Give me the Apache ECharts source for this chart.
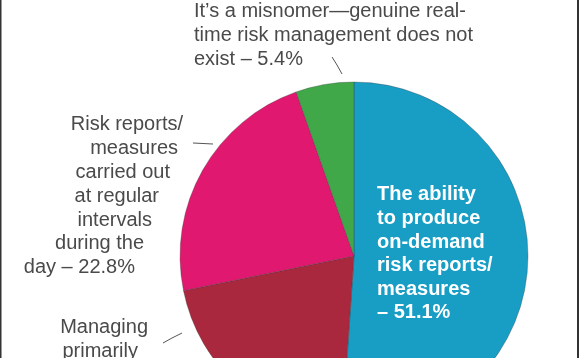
<!DOCTYPE html>
<html>
<head>
<meta charset="utf-8">
<script src="https://cdn.jsdelivr.net/npm/echarts@6/dist/echarts.min.js"></script>
<style>
html,body{margin:0;padding:0;background:#fff;}
#chart{width:580px;height:358px;}
</style>
</head>
<body>
<div id="chart"></div>
<script>
// ---- data ----
var categories = [
  "The ability\nto produce\non-demand\nrisk reports/\nmeasures\n",
  "Managing\nprimarily\nend-of-day\nrisk",
  "Risk reports/\nmeasures\ncarried out\nat regular\nintervals\nduring the\nday",
  "It\u2019s a misnomer\u2014genuine real-\ntime risk management does not\nexist"
];
var values = [51.1, 20.7, 22.8, 5.4];
var colors = ["#189dc4", "#a9283e", "#e1186f", "#41a84a"];

// ---- layout (label placement, not data) ----
var labelLayouts = [
  { x: 377, y: 183, align: "left", lineHeight: 23.6, pads: [0,0,0,0,0,0], line: null },
  { x: 148, y: 315, align: "right", lineHeight: 24, pads: [0,10,14,20,20], line: [[163,343],[172,338],[182,333]] },
  { x: 183, y: 113, align: "right", lineHeight: 23.8, pads: [0,5,13,24,31,39,48], line: [[193,143],[203,143.5],[213,144]] },
  { x: 194, y: -1, align: "left", lineHeight: 24, pads: [0,0,0], line: [[332,57],[337,65],[342,74]] }
];

function labelText(i) {
  var name = categories[i];
  var sep = name.charAt(name.length - 1) === "\n" ? "" : " ";
  var full = name + sep + "\u2013 " + values[i] + "%";
  return full.split("\n").map(function (ln, k) { return "{l" + k + "|" + ln + "}"; }).join("\n");
}

function richFor(i) {
  var L = labelLayouts[i];
  var isInside = i === 0;
  var rich = {};
  for (var k = 0; k < 8; k++) {
    var p = L.pads[k] || 0;
    rich["l" + k] = {
      fontFamily: "Liberation Sans, Arial, sans-serif",
      fontSize: 20,
      fontWeight: isInside ? "bold" : "normal",
      color: isInside ? "#ffffff" : "#4a4a4a",
      lineHeight: L.lineHeight,
      align: L.align,
      padding: L.align === "right" ? [0, p, 0, 0] : [0, 0, 0, p]
    };
  }
  return rich;
}

var seriesData = values.map(function (v, i) {
  return {
    name: categories[i],
    value: v,
    itemStyle: { color: colors[i] },
    label: {
      show: true,
      position: i === 0 ? "inside" : "outside",
      formatter: labelText(i),
      width: 300,
      overflow: "none",
      rich: richFor(i)
    },
    labelLine: { show: i !== 0, lineStyle: { color: "#555", width: 1 } }
  };
});

var chart = echarts.init(document.getElementById("chart"), null, { renderer: "canvas" });
chart.setOption({
  animation: false,
  backgroundColor: "#ffffff",
  graphic: [
    { type: "line", shape: { x1: 0.75, y1: 0, x2: 0.75, y2: 358 }, style: { stroke: "#333", lineWidth: 1.5 } },
    { type: "line", shape: { x1: 578, y1: 0, x2: 578, y2: 358 }, style: { stroke: "#333", lineWidth: 2 } }
  ],
  series: [{
    type: "pie",
    center: [354, 256],
    radius: 174,
    startAngle: 90,
    clockwise: true,
    avoidLabelOverlap: false,
    emphasis: { disabled: true },
    itemStyle: { borderColor: "rgba(50,50,50,0.45)", borderWidth: 0.7 },
    labelLine: { length: 10, length2: 10 },
    data: seriesData,
    labelLayout: function (params) {
      var L = labelLayouts[params.dataIndex];
      var out = { x: L.x, y: L.y, align: L.align, verticalAlign: "top" };
      if (L.line) out.labelLinePoints = L.line;
      return out;
    }
  }]
});
</script>
</body>
</html>
